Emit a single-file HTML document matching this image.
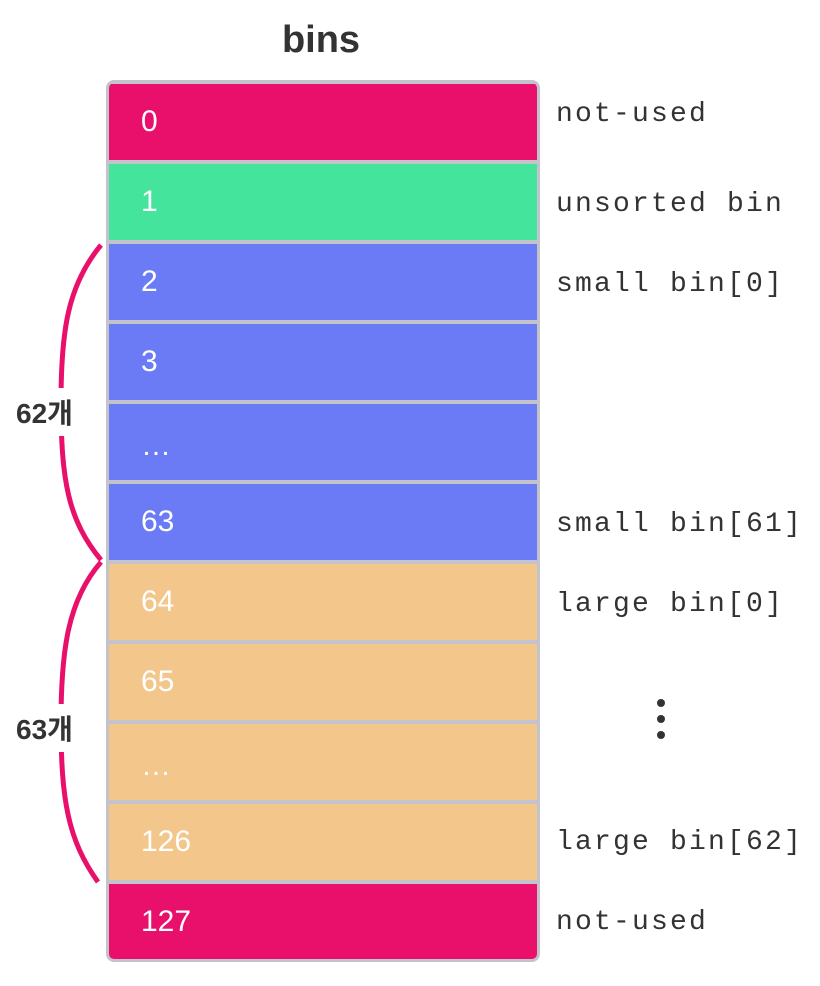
<!DOCTYPE html>
<html><head><meta charset="utf-8"><style>
body{margin:0;width:820px;height:986px;background:#fff;position:relative;overflow:hidden;font-family:"Liberation Sans","Noto Sans CJK KR",sans-serif}
.title{position:absolute;left:0;width:642px;top:19px;text-align:center;font-size:38px;font-weight:bold;color:#333}
.box{position:absolute;left:106px;top:80px;width:428px;height:876px;border:3px solid #c4c3cc;border-radius:8px;background:#c4c3cc;overflow:hidden}
.row{position:absolute;left:0;width:428px;height:76px;color:#fff;font-size:30px;line-height:76px;padding-left:32px;box-sizing:border-box}
.lbl{position:absolute;left:556px;font-family:"Liberation Mono",monospace;font-size:28px;letter-spacing:2.2px;color:#333}
.cnt{position:absolute;font-size:28px;font-weight:bold;color:#333;background:#fff;padding:4px 0}
</style></head><body>
<div class="title">bins</div>
<div class="box">
<div class="row" style="top:1px;background:#e8106b">0</div>
<div class="row" style="top:81px;background:#44e49c">1</div>
<div class="row" style="top:161px;background:#6b7bf5">2</div>
<div class="row" style="top:241px;background:#6b7bf5">3</div>
<div class="row" style="top:321px;background:#6b7bf5;line-height:84px">…</div>
<div class="row" style="top:401px;background:#6b7bf5">63</div>
<div class="row" style="top:481px;background:#f3c68b">64</div>
<div class="row" style="top:561px;background:#f3c68b">65</div>
<div class="row" style="top:641px;background:#f3c68b;line-height:84px">…</div>
<div class="row" style="top:721px;background:#f3c68b">126</div>
<div class="row" style="top:801px;background:#e8106b">127</div>
</div>
<div class="lbl" style="top:99px">not-used</div>
<div class="lbl" style="top:189px">unsorted bin</div>
<div class="lbl" style="top:269px">small bin[0]</div>
<div class="lbl" style="top:509px">small bin[61]</div>
<div class="lbl" style="top:589px">large bin[0]</div>
<div class="lbl" style="top:827px">large bin[62]</div>
<div class="lbl" style="top:907px">not-used</div>
<svg style="position:absolute;left:0;top:0" width="820" height="986">
<path d="M101,245 C68,285 61,330 61,402 C61,480 68,520 101,560" fill="none" stroke="#e8106b" stroke-width="5"/>
<path d="M101,562 C68,600 61,650 61,722 C61,800 68,840 98,882" fill="none" stroke="#e8106b" stroke-width="5"/>
<circle cx="661" cy="703" r="4" fill="#333"/>
<circle cx="661" cy="719" r="4" fill="#333"/>
<circle cx="661" cy="735" r="4" fill="#333"/>
</svg>
<div class="cnt" style="left:16px;top:388px">62개</div>
<div class="cnt" style="left:16px;top:704px">63개</div>
</body></html>
